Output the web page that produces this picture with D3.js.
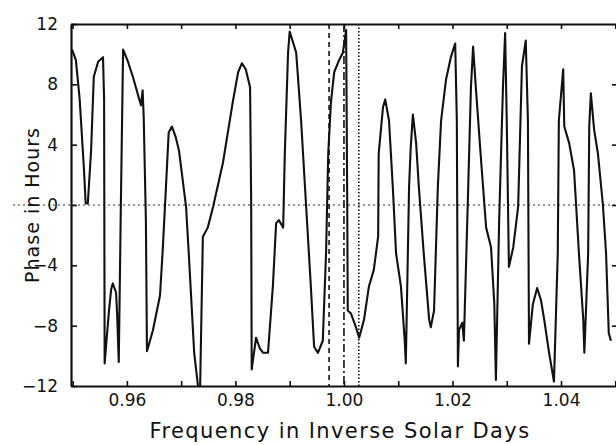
<!DOCTYPE html>
<html lang="en">
<head>
  <meta charset="UTF-8" />
  <title>phase vs frequency</title>
  <script src="https://d3js.org/d3.v7.min.js" charset="utf-8"></script>
  <style>
    body { margin: 0; background: #fff; }
    text { font-family: "DejaVu Sans", sans-serif; fill: #111; }
  </style>
</head>
<body>
<script type="text/javascript">

const WIDTH = 616;
const HEIGHT = 445;

// frequency in inverse solar days
const freq = [
  0.9499, 0.9506, 0.9513, 0.9521, 0.9524, 0.9528, 0.9534, 0.9539, 0.9547, 0.9556,
  0.9558, 0.9559, 0.9567, 0.9571, 0.9574, 0.9580, 0.9582, 0.9585, 0.9589, 0.9593,
  0.9602, 0.9611, 0.9626, 0.9629, 0.9631, 0.9635, 0.9637, 0.9648, 0.9661, 0.9666,
  0.9672, 0.9677, 0.9683, 0.9690, 0.9696, 0.9709, 0.9714, 0.9724, 0.9731, 0.9735,
  0.9740, 0.9749, 0.9759, 0.9777, 0.9795, 0.9805, 0.9812, 0.9819, 0.9827, 0.9829,
  0.9830, 0.9838, 0.9845, 0.9851, 0.9860, 0.9869, 0.9875, 0.9880, 0.9888, 0.9891,
  0.9897, 0.9900, 0.9912, 0.9921, 0.9930, 0.9939, 0.9945, 0.9952, 0.9961, 0.9967,
  0.9971, 0.9976, 0.9982, 0.9991, 0.9998, 1.0004, 1.0006, 1.0007, 1.0013, 1.0022,
  1.0028, 1.0037, 1.0046, 1.0055, 1.0063, 1.0064, 1.0072, 1.0076, 1.0083, 1.0090,
  1.0096, 1.0105, 1.0112, 1.0114, 1.0120, 1.0123, 1.0127, 1.0133, 1.0138, 1.0147,
  1.0157, 1.0160, 1.0166, 1.0173, 1.0179, 1.0188, 1.0197, 1.0205, 1.0208, 1.0210,
  1.0212, 1.0218, 1.0221, 1.0229, 1.0234, 1.0238, 1.0243, 1.0253, 1.0262, 1.0271,
  1.0277, 1.0280, 1.0286, 1.0293, 1.0297, 1.0300, 1.0304, 1.0312, 1.0321, 1.0328,
  1.0335, 1.0339, 1.0341, 1.0348, 1.0356, 1.0363, 1.0369, 1.0378, 1.0387, 1.0394,
  1.0396, 1.0404, 1.0406, 1.0415, 1.0424, 1.0433, 1.0441, 1.0443, 1.0450, 1.0452,
  1.0455, 1.0461, 1.0468, 1.0477, 1.0483, 1.0488, 1.0492
];
// phase in hours
const phase = [
  10.3, 9.6, 7.0, 2.3, 0.1, 0.1, 3.6, 8.5, 9.5, 9.8,
  7.0, -10.5, -7.0, -5.6, -5.2, -5.8, -7.2, -10.4, 0.3, 10.3,
  9.5, 8.5, 6.6, 7.6, 5.8, -1.0, -9.7, -8.3, -6.0, -3.0,
  1.2, 4.8, 5.2, 4.5, 3.6, -0.1, -3.2, -9.8, -12.0, -12.0,
  -2.1, -1.5, -0.1, 2.8, 6.8, 8.8, 9.4, 9.0, 7.8, 0.3,
  -10.9, -8.8, -9.5, -9.8, -9.8, -5.4, -1.2, -1.0, -1.5, 3.4,
  10.1, 11.5, 10.1, 5.6, 0.1, -5.4, -9.4, -9.8, -9.0, -3.2,
  3.4, 6.8, 8.8, 9.6, 10.1, 11.6, 0.3, -7.0, -7.2, -8.1,
  -8.8, -7.6, -5.4, -4.3, -2.1, 3.4, 6.5, 7.0, 5.6, 1.2,
  -3.2, -5.4, -9.0, -10.5, 1.2, 3.8, 6.0, 4.1, 1.2, -3.2,
  -7.6, -8.1, -7.0, 1.2, 5.6, 8.3, 9.8, 10.7, 5.6, -10.7,
  -8.3, -7.8, -9.0, 1.2, 7.8, 10.5, 7.8, 2.8, -1.5, -2.8,
  -6.5, -11.6, -1.0, 7.8, 11.4, 5.6, -4.1, -2.8, -0.1, 9.2,
  10.9, 5.6, -9.2, -6.6, -5.5, -6.3, -7.6, -9.8, -11.7, -3.2,
  5.6, 9.0, 5.2, 4.1, 2.3, -3.2, -7.6, -9.8, -3.2, 5.2,
  7.4, 5.0, 3.4, 0.1, -3.2, -8.5, -9.0
];

const yTicks = [-12, -8, -4, 0, 4, 8, 12];
const xLabelTicks = [0.96, 0.98, 1.00, 1.02, 1.04];
const xMinorTicks = [0.95, 0.96, 0.97, 0.98, 0.99, 1.00, 1.01, 1.02, 1.03, 1.04, 1.05];
const rightTicks = [-8, -4, 0, 4, 8];
// anti-sidereal, solar, sidereal frequencies
const markers = [
  {f: 0.99726, dash: "5,4"},
  {f: 1.0, dash: "8,3,2,3"},
  {f: 1.00274, dash: "1.5,2"}
];

const svg = d3.select("body")
  .append("svg")
    .attr("width", WIDTH)
    .attr("height", HEIGHT);

const x = d3.scaleLinear().domain([0.9497, 1.0505]).range([71, 618]);
const y = d3.scaleLinear().domain([-12, 12]).range([386, 24]);

// zero line
svg.append("line")
  .attr("x1", 13).attr("x2", WIDTH)
  .attr("y1", y(0)).attr("y2", y(0))
  .attr("stroke", "#333")
  .attr("stroke-width", 1)
  .attr("stroke-dasharray", "2,3");

// vertical marker lines
svg.append("g")
  .selectAll("line")
  .data(markers)
  .join("line")
    .attr("x1", d => x(d.f)).attr("x2", d => x(d.f))
    .attr("y1", y(12)).attr("y2", y(-12))
    .attr("stroke", "#111")
    .attr("stroke-width", 1.6)
    .attr("stroke-dasharray", d => d.dash);

// curve
const pts = freq.map((f, i) => [f, phase[i]]);
svg.append("path")
  .datum(pts)
  .attr("fill", "none")
  .attr("stroke", "#111")
  .attr("stroke-width", 2.1)
  .attr("stroke-linejoin", "round")
  .attr("d", d3.line().x(d => x(d[0])).y(d => y(d[1])));

function styleAxis(g) {
  g.select(".domain").attr("stroke", "#111").attr("stroke-width", 2.2);
  g.selectAll(".tick line").attr("stroke", "#111").attr("stroke-width", 1.6);
  g.selectAll(".tick text").attr("font-size", 17).attr("fill", "#111")
    .attr("font-family", "DejaVu Sans, sans-serif");
}

// left
svg.append("g")
  .attr("transform", `translate(${x.range()[0]},0)`)
  .call(d3.axisLeft(y).tickValues(yTicks).tickSize(-6).tickSizeOuter(0).tickPadding(13))
  .call(styleAxis);

// right (ticks only)
svg.append("g")
  .attr("transform", `translate(${x.range()[1]},0)`)
  .call(d3.axisRight(y).tickValues(rightTicks).tickSize(-6).tickSizeOuter(0).tickFormat(""))
  .call(styleAxis);

// bottom
svg.append("g")
  .attr("transform", `translate(0,${y.range()[0]})`)
  .call(d3.axisBottom(x).tickValues(xMinorTicks).tickSize(-5).tickSizeOuter(0).tickPadding(8)
    .tickFormat(d => xLabelTicks.some(v => Math.abs(v - d) < 1e-6) ? d3.format(".2f")(d) : ""))
  .call(styleAxis);

// top
svg.append("g")
  .attr("transform", `translate(0,${y.range()[1]})`)
  .call(d3.axisTop(x).tickValues(xMinorTicks).tickSize(-5).tickSizeOuter(0).tickFormat(""))
  .call(styleAxis);

// axis titles
svg.append("text")
  .attr("x", 340)
  .attr("y", 438)
  .attr("text-anchor", "middle")
  .attr("font-size", 21)
  .attr("letter-spacing", 1.4)
  .text("Frequency in Inverse Solar Days");

svg.append("text")
  .attr("transform", `translate(39,${y(0)}) rotate(-90)`)
  .attr("text-anchor", "middle")
  .attr("font-size", 19)
  .attr("letter-spacing", 1)
  .text("Phase in Hours");

</script>
</body>
</html>
